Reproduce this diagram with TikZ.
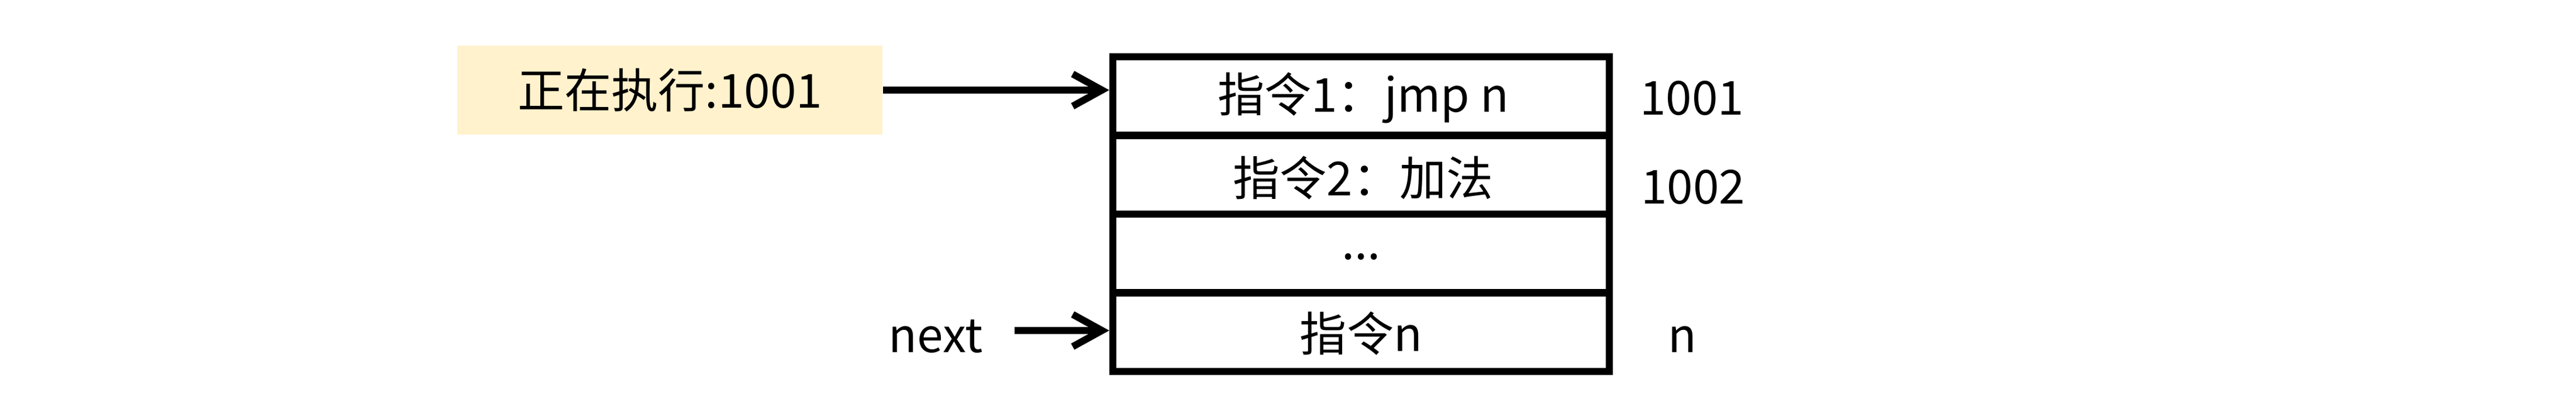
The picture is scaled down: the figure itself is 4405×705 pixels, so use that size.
\documentclass[tikz,border=0pt]{standalone}
\usepackage{fontspec}
\setmainfont{Noto Sans CJK SC}
\usetikzlibrary{arrows.meta}
\definecolor{noteyellow}{HTML}{FFF2CC}
\tikzset{
  cell/.style={draw=black, line width=3.4pt, minimum width=8.49cm, minimum height=1.345cm, inner sep=0pt, anchor=center},
  lbl/.style={inner sep=0pt, font=\fontsize{22.8}{27}\selectfont},
  ptr/.style={line width=3.6pt, -{Straight Barb[length=0.5cm,width=0.55cm,line width=3.4pt]}},
}
\begin{document}
\begin{tikzpicture}[x=0.01cm,y=0.01cm]
\useasboundingbox (0,0) rectangle (4405,705);
% yellow note
\node[fill=noteyellow, minimum width=7.27cm, minimum height=1.52cm, inner sep=0pt, font=\fontsize{22.8}{27}\selectfont] (cur) at (1145.5,551) {正在执行:1001};
% memory cells
\node[cell] (c1) at (2327.5,540.75) {};
\node[cell] (c2) at (2327.5,406.25) {};
\node[cell] (c3) at (2327.5,271.75) {};
\node[cell] (c4) at (2327.5,137.25) {};
\node[lbl] (t1) at (2331,538) {指令1：jmp n};
\node[lbl] (t2) at (2331,401) {指令2：加法};
\node[lbl] (t3) at (2327.5,266) {...};
\node[lbl] (t4) at (2327.5,135) {指令n};
% addresses
\node[lbl] (a1) at (2893,537) {1001};
\node[lbl] (a2) at (2895,385) {1002};
\node[lbl] (a3) at (2877,125) {n};
% next label
\node[lbl] (nx) at (1600,130) {next};
\coordinate (nxs) at (1735,140);
% pointers
\draw[ptr] (cur.east) -- (cur.east -| c1.west);
\draw[ptr] (nxs) -- (nxs -| c4.west);
\end{tikzpicture}
\end{document}
